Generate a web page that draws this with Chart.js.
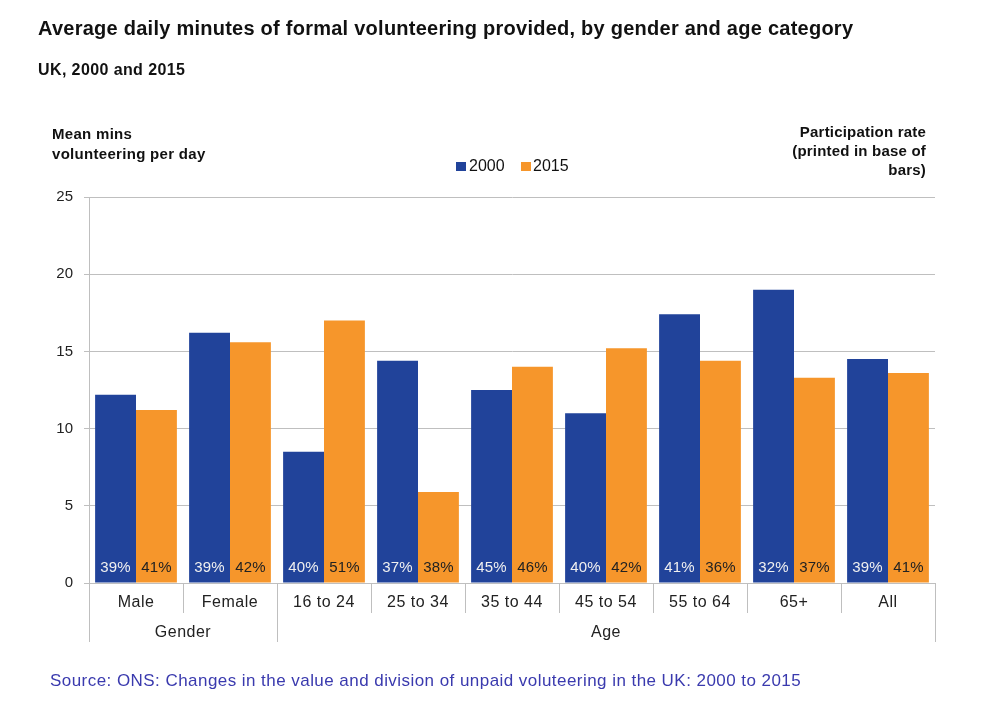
<!DOCTYPE html>
<html>
<head>
<meta charset="utf-8">
<script src="https://cdn.jsdelivr.net/npm/chart.js@4"></script>
<style>
  body { margin: 0; background: #fff; }
  #wrap { position: relative; width: 981px; height: 706px; font-family: 'Liberation Sans', Arial, sans-serif; color: #111; }
  #wrap canvas { position: absolute; left: 0; top: 0; }
  .txt { position: absolute; white-space: nowrap; }
  .title { left: 38px; top: 18px; font-size: 20px; line-height: 20px; font-weight: bold; letter-spacing: 0.25px; }
  .sub { left: 38px; top: 61.5px; font-size: 16px; line-height: 16px; font-weight: bold; letter-spacing: 0.4px; }
  .ytitle { left: 52px; top: 124px; font-size: 15px; font-weight: bold; line-height: 19.5px; letter-spacing: 0.3px; }
  .rtitle { right: 55px; top: 121.5px; font-size: 15px; font-weight: bold; line-height: 19px; text-align: right; letter-spacing: 0.2px; }
  .leg { font-size: 16px; line-height: 16px; top: 158px; }
  .sw { position: absolute; top: 161.5px; width: 9.5px; height: 9.5px; }
  .source { left: 50px; top: 672px; font-size: 17px; line-height: 17px; color: #3a3aae; letter-spacing: 0.45px; }
</style>
</head>
<body>
<div id="wrap">
  <canvas id="chart" width="981" height="706"></canvas>
  <div class="txt title">Average daily minutes of formal volunteering provided, by gender and age category</div>
  <div class="txt sub">UK, 2000 and 2015</div>
  <div class="txt ytitle">Mean mins<br>volunteering per day</div>
  <div class="txt rtitle">Participation rate<br>(printed in base of<br>bars)</div>
  <div class="sw" style="left:456px;background:#21439a"></div>
  <div class="txt leg" style="left:469px">2000</div>
  <div class="sw" style="left:521px;background:#f6962b"></div>
  <div class="txt leg" style="left:533px">2015</div>
  <div class="txt source">Source: ONS: Changes in the value and division of unpaid voluteering in the UK: 2000 to 2015</div>
</div>
<script>
const categories = ['Male', 'Female', '16 to 24', '25 to 34', '35 to 44', '45 to 54', '55 to 64', '65+', 'All'];
const groupLabels = ['Gender', 'Age'];
const groupSizes = [2, 7];
const mins2000 = [12.2, 16.2, 8.5, 14.4, 12.5, 11.0, 17.4, 19.0, 14.5];
const mins2015 = [11.2, 15.6, 17.0, 5.9, 14.0, 15.2, 14.4, 13.3, 13.6];
const rate2000 = ['39%', '39%', '40%', '37%', '45%', '40%', '41%', '32%', '39%'];
const rate2015 = ['41%', '42%', '51%', '38%', '46%', '42%', '36%', '37%', '41%'];
const yTicks = [0, 5, 10, 15, 20, 25];

const BLUE = '#21439a';
const ORANGE = '#f6962b';
const GRID = '#bfbfbf';
const FONT = "'Liberation Sans', Arial, sans-serif";

/* ── rates in base of bars + two-level category axis ── */
const annotate = {
  id: 'annotate',
  afterDatasetsDraw(chart) {
    const { ctx } = chart;
    const y0 = chart.scales.y.getPixelForValue(0);
    const rates = [rate2000, rate2015];
    ctx.save();
    ctx.font = '15px ' + FONT;
    ctx.letterSpacing = '0.2px';
    ctx.textAlign = 'center';
    ctx.textBaseline = 'middle';
    chart.data.datasets.forEach((ds, di) => {
      chart.getDatasetMeta(di).data.forEach((bar, i) => {
        ctx.fillStyle = di === 0 ? '#f0f0f0' : '#222';
        ctx.fillText(rates[di][i], bar.x, y0 - 15);
      });
    });
    ctx.restore();
  },
  afterDraw(chart) {
    const { ctx, chartArea } = chart;
    const x = chart.scales.x;
    const y0 = chart.scales.y.getPixelForValue(0);
    const n = categories.length;
    const step = x.getPixelForValue(1) - x.getPixelForValue(0);
    const edge = i => x.getPixelForValue(i) - step / 2;

    ctx.save();
    ctx.strokeStyle = GRID;
    ctx.lineWidth = 1;
    ctx.fillStyle = '#222';
    ctx.font = '16px ' + FONT;
    ctx.letterSpacing = '0.5px';
    ctx.textAlign = 'center';
    ctx.textBaseline = 'middle';

    categories.forEach((c, i) => ctx.fillText(c, x.getPixelForValue(i), y0 + 20));

    const groupEdges = [0];
    groupSizes.forEach(s => groupEdges.push(groupEdges[groupEdges.length - 1] + s));

    for (let i = 0; i <= n; i++) {
      const px = Math.round(i === n ? chartArea.right : edge(i)) + 0.5;
      const long = groupEdges.includes(i);
      ctx.beginPath();
      ctx.moveTo(px, y0);
      ctx.lineTo(px, y0 + (long ? 59 : 30));
      ctx.stroke();
    }

    groupLabels.forEach((g, k) => {
      const a = edge(groupEdges[k]);
      const b = groupEdges[k + 1] === n ? chartArea.right : edge(groupEdges[k + 1]);
      ctx.fillText(g, (a + b) / 2, y0 + 50);
    });
    ctx.restore();
  }
};

new Chart(document.getElementById('chart'), {
  type: 'bar',
  data: {
    labels: categories,
    datasets: [
      { label: '2000', data: mins2000, backgroundColor: BLUE },
      { label: '2015', data: mins2015, backgroundColor: ORANGE }
    ]
  },
  options: {
    responsive: false,
    animation: false,
    devicePixelRatio: 1,
    layout: { padding: { left: 0, top: 197, right: 46, bottom: 0 } },
    datasets: { bar: { categoryPercentage: 0.87, barPercentage: 1.0 } },
    plugins: { legend: { display: false }, tooltip: { enabled: false } },
    scales: {
      x: {
        grid: { display: false },
        border: { display: true, color: GRID },
        ticks: { display: false },
        afterFit: s => { s.height = 123; }
      },
      y: {
        min: 0,
        max: 25,
        afterBuildTicks: s => { s.ticks = yTicks.map(v => ({ value: v })); },
        grid: { color: GRID, tickLength: 5 },
        border: { display: true, color: GRID },
        ticks: { color: '#222', padding: 11, font: { family: FONT, size: 15 } },
        afterFit: s => { s.width = 89; }
      }
    }
  },
  plugins: [annotate]
});
</script>
</body>
</html>
